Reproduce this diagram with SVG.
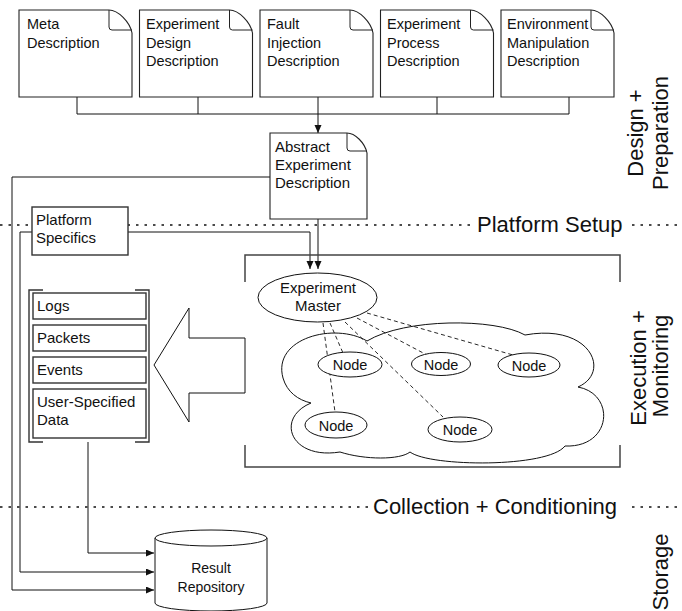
<svg xmlns="http://www.w3.org/2000/svg" width="682" height="611" viewBox="0 0 682 611">
<style>
text{font-family:"Liberation Sans",Arial,sans-serif;fill:#111}
.doc{fill:#fff;stroke:#222;stroke-width:1.1}
.fold{fill:none;stroke:#222;stroke-width:1}
.t{font-size:14.5px}
.m{font-size:15px}
.c{text-anchor:middle}
.big{font-size:22px}
.ln{fill:none;stroke:#111;stroke-width:1}
.dot{fill:none;stroke:#111;stroke-width:1.4;stroke-dasharray:2.5 6}
.dash{fill:none;stroke:#111;stroke-width:0.9;stroke-dasharray:4 3}
.box{fill:#fff;stroke:#333;stroke-width:1.4}
.ell{fill:#fff;stroke:#111;stroke-width:1}
.frame{fill:none;stroke:#444;stroke-width:1.5}
</style>
<defs>
<marker id="ah" markerUnits="userSpaceOnUse" markerWidth="9" markerHeight="8" refX="8" refY="3.5" orient="auto">
<path d="M0,0 L8,3.5 L0,7 Z" fill="#111"/>
</marker>
</defs>

<!-- phase separators -->
<g id="separators">
<path class="dot" d="M0,225 H474 M632,225 H682"/>
<text class="big" x="477" y="232">Platform Setup</text>
<path class="dot" d="M0,507 H370 M632,507 H682"/>
<text class="big" x="373" y="514">Collection + Conditioning</text>
</g>

<g id="phase-labels" class="big">
<text class="c" transform="translate(643,133) rotate(-90)">Design +</text>
<text class="c" transform="translate(668,133) rotate(-90)">Preparation</text>
<text class="c" transform="translate(646,368) rotate(-90)">Execution +</text>
<text class="c" transform="translate(668,366) rotate(-90)">Monitoring</text>
<text class="c" transform="translate(668,572) rotate(-90)">Storage</text>
</g>

<!-- connectors -->
<g id="connectors">
<path class="ln" d="M77,97 V114 H569 V97 M198,97 V114 M437,97 V114"/>
<path class="ln" d="M318,97 V133" marker-end="url(#ah)"/>
<path class="ln" d="M270,177 H12 V590 H154" marker-end="url(#ah)"/>
<path class="ln" d="M32,232 H20 V572 H154" marker-end="url(#ah)"/>
<path class="ln" d="M88,442 V553 H154" marker-end="url(#ah)"/>
<path class="ln" d="M128,232 H310 V269" marker-end="url(#ah)"/>
<path class="ln" d="M318,219 V269" marker-end="url(#ah)"/>
</g>

<!-- top description documents -->
<g id="doc-meta">
<path class="doc" d="M19,10 H109 C118,10 130,22 132,33 V97 H19 Z"/>
<path class="fold" d="M109,10 V27 Q109,30 112,30 H132"/>
<text class="t" x="27" y="29">Meta</text>
<text class="t" x="27" y="47.5">Description</text>
</g>
<g id="doc-design">
<path class="doc" d="M139.5,10 H229.5 C238.5,10 250.5,22 252.5,33 V97 H139.5 Z"/>
<path class="fold" d="M229.5,10 V27 Q229.5,30 232.5,30 H252.5"/>
<text class="t" x="146" y="29">Experiment</text>
<text class="t" x="146" y="47.5">Design</text>
<text class="t" x="146" y="66">Description</text>
</g>
<g id="doc-fault">
<path class="doc" d="M260,10 H350 C359,10 371,22 373,33 V97 H260 Z"/>
<path class="fold" d="M350,10 V27 Q350,30 353,30 H373"/>
<text class="t" x="267" y="29">Fault</text>
<text class="t" x="267" y="47.5">Injection</text>
<text class="t" x="267" y="66">Description</text>
</g>
<g id="doc-process">
<path class="doc" d="M380.5,10 H470.5 C479.5,10 491.5,22 493.5,33 V97 H380.5 Z"/>
<path class="fold" d="M470.5,10 V27 Q470.5,30 473.5,30 H493.5"/>
<text class="t" x="387" y="29">Experiment</text>
<text class="t" x="387" y="47.5">Process</text>
<text class="t" x="387" y="66">Description</text>
</g>
<g id="doc-environment">
<path class="doc" d="M501,10 H591 C600,10 612,22 614,33 V97 H501 Z"/>
<path class="fold" d="M591,10 V27 Q591,30 594,30 H614"/>
<text class="t" x="507" y="29">Environment</text>
<text class="t" x="507" y="47.5">Manipulation</text>
<text class="t" x="507" y="66">Description</text>
</g>

<g id="doc-abstract">
<path class="doc" d="M270,133 H347 C355,133 365,143 367,153 V219 H270 Z"/>
<path class="fold" d="M347,133 V148 Q347,151 350,151 H367"/>
<text class="m" x="275" y="152">Abstract</text>
<text class="m" x="275" y="170">Experiment</text>
<text class="m" x="275" y="188">Description</text>
</g>

<g id="platform-specifics">
<rect class="box" x="32" y="207" width="96" height="48"/>
<text class="m" x="36" y="225">Platform</text>
<text class="m" x="36" y="243">Specifics</text>
</g>

<!-- execution frame -->
<g id="execution-frame">
<path class="frame" d="M245,282 V255 H620 V282 M245,445 V467 H620 V445"/>
</g>

<g id="collect-arrow">
<path fill="#fff" stroke="#111" stroke-width="1" d="M245,338 H189 V308 L154,365 L189,422 V393 H245 Z"/>
</g>

<g id="cloud">
<path fill="#fff" stroke="#111" stroke-width="1" d="M367,341 C335,322 272,338 283,378 C287,392 298,400 311,403 C275,418 290,460 340,452 C365,460 400,460 410,452 C430,467 548,468 565,446 C612,448 616,394 578,387 C612,372 590,323 525,335 C495,318 405,318 367,341 Z"/>
</g>

<g id="master-links">
<path class="dash" d="M323,323 L335,412"/>
<path class="dash" d="M330,323 L343,353"/>
<path class="dash" d="M345,322 L443,417"/>
<path class="dash" d="M357,318 L427,355"/>
<path class="dash" d="M367,313 L513,355"/>
</g>

<g id="experiment-master">
<ellipse class="ell" cx="317.5" cy="297.5" rx="59.5" ry="24.5"/>
<text class="m c" x="318" y="293">Experiment</text>
<text class="m c" x="318" y="311">Master</text>
</g>

<g id="node-1">
<ellipse class="ell" cx="350" cy="364.5" rx="32" ry="12.5"/>
<text class="t c" x="350" y="370">Node</text>
</g>
<g id="node-2">
<ellipse class="ell" cx="441" cy="364" rx="29.5" ry="11.5"/>
<text class="t c" x="441" y="369.5">Node</text>
</g>
<g id="node-3">
<ellipse class="ell" cx="529" cy="365" rx="31" ry="12"/>
<text class="t c" x="529" y="370.5">Node</text>
</g>
<g id="node-4">
<ellipse class="ell" cx="336" cy="425" rx="31" ry="13"/>
<text class="t c" x="336" y="430.5">Node</text>
</g>
<g id="node-5">
<ellipse class="ell" cx="460" cy="429.5" rx="32" ry="12.5"/>
<text class="t c" x="460" y="435">Node</text>
</g>

<!-- collected data -->
<g id="data-group">
<path fill="none" stroke="#333" stroke-width="1.4" d="M43,290 H29 V442 H43 M135,290 H149 V442 H135"/>
</g>
<g id="logs">
<rect class="box" x="33" y="293" width="113" height="26"/>
<text class="m" x="37" y="311">Logs</text>
</g>
<g id="packets">
<rect class="box" x="33" y="325" width="113" height="26"/>
<text class="m" x="37" y="343">Packets</text>
</g>
<g id="events">
<rect class="box" x="33" y="357" width="113" height="26"/>
<text class="m" x="37" y="375">Events</text>
</g>
<g id="user-data">
<rect class="box" x="33" y="389" width="113" height="49"/>
<text class="m" x="37" y="407">User-Specified</text>
<text class="m" x="37" y="425">Data</text>
</g>

<g id="result-repository">
<path fill="#fff" stroke="#111" stroke-width="1" d="M155,538 V603 A56,8 0 0 0 267,603 V538"/>
<ellipse fill="#fff" stroke="#111" stroke-width="1" cx="211" cy="538" rx="56" ry="8"/>
<text class="c" font-size="14" x="211" y="573">Result</text>
<text class="c" font-size="14" x="211" y="592">Repository</text>
</g>
</svg>
